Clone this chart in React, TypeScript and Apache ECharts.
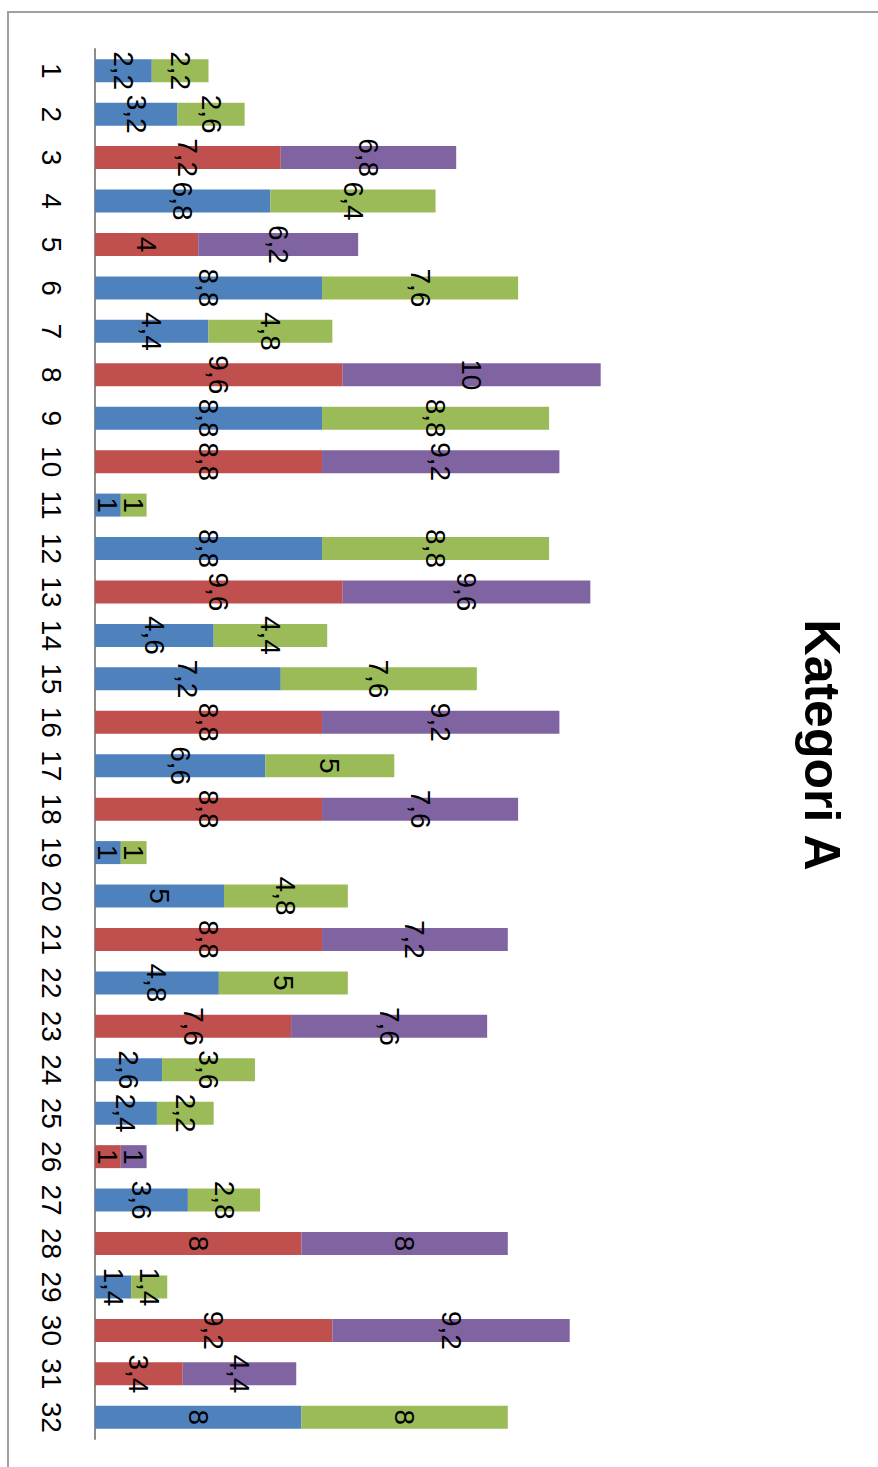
import React, { useEffect, useRef } from "react";
import * as echarts from "echarts";

const categories = ["1","2","3","4","5","6","7","8","9","10","11","12","13","14","15","16","17","18","19","20","21","22","23","24","25","26","27","28","29","30","31","32"];

const blueValues = [2.2, 3.2, null, 6.8, null, 8.8, 4.4, null, 8.8, null, 1, 8.8, null, 4.6, 7.2, null, 6.6, null, 1, 5, null, 4.8, null, 2.6, 2.4, null, 3.6, null, 1.4, null, null, 8];
const greenValues = [2.2, 2.6, null, 6.4, null, 7.6, 4.8, null, 8.8, null, 1, 8.8, null, 4.4, 7.6, null, 5, null, 1, 4.8, null, 5, null, 3.6, 2.2, null, 2.8, null, 1.4, null, null, 8];
const redValues = [null, null, 7.2, null, 4, null, null, 9.6, null, 8.8, null, null, 9.6, null, null, 8.8, null, 8.8, null, null, 8.8, null, 7.6, null, null, 1, null, 8, null, 9.2, 3.4, null];
const purpleValues = [null, null, 6.8, null, 6.2, null, null, 10, null, 9.2, null, null, 9.6, null, null, 9.2, null, 7.6, null, null, 7.2, null, 7.6, null, null, 1, null, 8, null, 9.2, 4.4, null];

const titleText = "Kategori A";

const FONT = "'Liberation Sans', Arial, sans-serif";

export default function App() {
  const ref = useRef<HTMLDivElement>(null);
  useEffect(() => {
    if (!ref.current) return;
    const chart = echarts.init(ref.current, null, { renderer: "svg" });
    const label = {
      show: true,
      position: "inside",
      rotate: -90,
      color: "#000",
      fontSize: 28,
      fontFamily: FONT,
      textBorderWidth: 0,
      formatter: (p: any) => (p.value == null ? "" : String(p.value).replace(".", ",")),
    };
    const mk = (name: string, data: any[], color: string) => ({
      name,
      type: "bar",
      stack: "total",
      data,
      barWidth: 23,
      itemStyle: { color },
      label,
    });
    chart.setOption({
      animation: false,
      backgroundColor: "#fff",
      grid: { left: 95, top: 49, bottom: 28, right: 138 },
      xAxis: {
        type: "value",
        min: 0,
        max: 25,
        show: false,
      },
      yAxis: {
        type: "category",
        inverse: true,
        data: categories,
        axisLine: { show: true, lineStyle: { color: "#8c8c8c", width: 2 } },
        axisTick: { show: false },
        splitLine: { show: false },
        axisLabel: {
          rotate: -90,
          color: "#000",
          fontSize: 28,
          fontFamily: FONT,
          margin: 30,
          interval: 0,
        },
      },
      graphic: [
        {
          type: "rect",
          shape: { x: 8, y: 12, width: 900, height: 1500 },
          style: { fill: "none", stroke: "#a0a0a0", lineWidth: 2 },
          silent: true,
        },
        {
          type: "text",
          x: 822,
          y: 745,
          rotation: -Math.PI / 2,
          style: {
            text: titleText,
            fill: "#000",
            font: `bold 50px ${FONT}`,
            textAlign: "center",
            textVerticalAlign: "middle",
          },
        },
      ],
      series: [
        mk("Serie 1", blueValues, "#4F81BD"),
        mk("Serie 3", redValues, "#C0504D"),
        mk("Serie 2", greenValues, "#9BBB59"),
        mk("Serie 4", purpleValues, "#8064A2"),
      ],
    });
    return () => chart.dispose();
  }, []);
  return (
    <div
      ref={ref}
      style={{ position: "fixed", left: 0, top: 0, width: 878, height: 1467 }}
    />
  );
}
